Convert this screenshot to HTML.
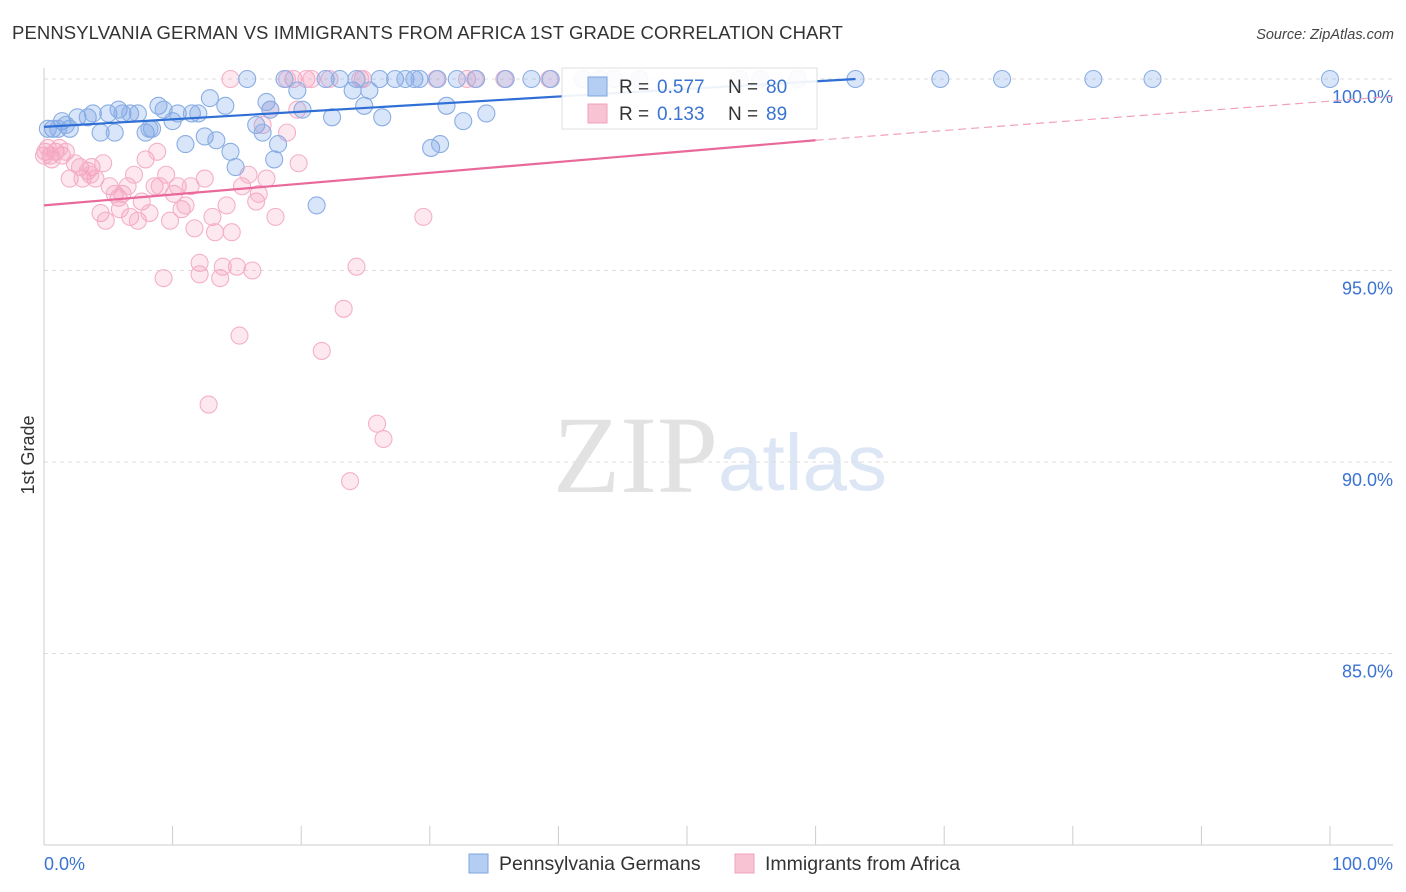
<!DOCTYPE html>
<html><head><meta charset="utf-8">
<style>
body{margin:0;background:#fff;font-family:"Liberation Sans",sans-serif;}
svg{display:block}
</style></head>
<body>
<svg id="chart" width="1406" height="892" viewBox="0 0 1406 892" xmlns="http://www.w3.org/2000/svg">
<text x="12" y="39" font-size="18.5" letter-spacing="0.1" fill="#333" font-family="Liberation Sans, sans-serif">PENNSYLVANIA GERMAN VS IMMIGRANTS FROM AFRICA 1ST GRADE CORRELATION CHART</text>
<text x="1394" y="39" font-size="14.5" fill="#444" font-style="italic" text-anchor="end">Source: ZipAtlas.com</text>
<g>
<text x="553" y="492" font-size="110" fill="#e2e2e2" font-family="Liberation Serif, serif">ZIP</text>
<text x="718" y="490" font-size="80" fill="#dce6f5" font-family="Liberation Sans, sans-serif">atlas</text>
</g>
<g id="grid"></g>
<g id="axes"></g>
<g id="pts"></g>
<g id="trends"></g>
<text transform="translate(34,455) rotate(-90)" font-size="18" fill="#333" text-anchor="middle">1st Grade</text>
<g>
<rect x="562" y="68" width="255" height="61" fill="#fff" stroke="#ddd" opacity="0.92"/>
<rect x="588" y="77" width="19" height="19" fill="#b4cdf2" stroke="#7ea6e0"/>
<rect x="588" y="104" width="19" height="19" fill="#f8c4d4" stroke="#f0a0bc"/>
<text x="619" y="93" font-size="19" fill="#333">R = </text><text x="657" y="93" font-size="19" fill="#3b73d1">0.577</text>
<text x="728" y="93" font-size="19" fill="#333">N = </text><text x="766" y="93" font-size="19" fill="#3b73d1">80</text>
<text x="619" y="120" font-size="19" fill="#333">R = </text><text x="657" y="120" font-size="19" fill="#3b73d1">0.133</text>
<text x="728" y="120" font-size="19" fill="#333">N = </text><text x="766" y="120" font-size="19" fill="#3b73d1">89</text>
</g>
<g>
<rect x="469" y="854" width="19" height="19" fill="#b4cdf2" stroke="#7ea6e0"/>
<text x="499" y="870" font-size="19.5" fill="#333">Pennsylvania Germans</text>
<rect x="735" y="854" width="19" height="19" fill="#f8c4d4" stroke="#f0a0bc"/>
<text x="765" y="870" font-size="19.5" fill="#333">Immigrants from Africa</text>
</g>
</svg>
<script>
const yTicks=[100,95,90,85];
const yTickLabels=["100.0%","95.0%","90.0%","85.0%"];
const xTicks=[0,10,20,30,40,50,60,70,80,90,100];
const blueX=[0.7,1.4,2.0,2.6,3.4,3.8,4.4,5.0,5.5,5.8,6.1,6.7,7.3,7.9,8.4,8.9,9.3,10.0,10.4,11.0,11.5,12.0,12.5,12.9,13.4,14.1,14.5,14.9,15.8,16.5,17.0,17.3,17.6,17.9,18.2,18.7,19.7,20.1,21.2,21.9,22.4,23.0,24.0,24.3,24.9,25.3,26.1,26.3,27.3,28.1,28.8,29.2,30.1,30.6,30.8,31.3,32.1,32.6,33.6,34.4,35.9,37.9,39.4,41.9,43.2,44.3,46.3,54.1,55.7,58.6,63.1,69.7,74.5,81.6,86.2,100,0.3,1.1,1.7,8.2];
const blueY=[98.7,98.9,98.7,99.0,99.0,99.1,98.6,99.1,98.6,99.2,99.1,99.1,99.1,98.6,98.7,99.3,99.2,98.9,99.1,98.3,99.1,99.1,98.5,99.5,98.4,99.3,98.1,97.7,100,98.8,98.6,99.4,99.2,97.9,98.3,100,99.7,99.2,96.7,100,99.0,100,99.7,100,99.3,99.7,100,99.0,100,100,100,100,98.2,100,98.3,99.3,100,98.9,100,99.1,100,100,100,100,100,100,100,100,100,100,100,100,100,100,100,100,98.7,98.7,98.8,98.7];
const pinkX=[0.1,0.5,0.9,1.4,1.7,2.0,2.4,2.8,3.0,3.4,3.7,4.0,4.4,4.6,4.8,5.1,5.5,5.8,6.1,6.5,6.7,7.0,7.3,7.6,7.9,8.2,8.6,8.8,9.0,9.3,9.5,9.8,10.1,10.4,10.7,11.0,11.4,11.7,12.1,12.1,12.5,12.8,13.1,13.3,13.7,13.9,14.2,14.6,15.0,15.2,15.4,15.9,16.2,16.5,16.7,17.0,17.3,17.6,18.0,18.9,19.4,19.7,19.8,20.4,21.6,22.2,23.3,23.8,24.3,24.6,25.9,26.4,29.5,30.5,32.9,33.5,35.8,39.3,14.5,18.9,20.8,24.8,0,0.6,0.3,1.2,3.6,5.9];
const pinkY=[98.1,98.0,98.1,98.0,98.1,97.4,97.8,97.7,97.4,97.6,97.7,97.4,96.5,97.8,96.3,97.2,97.0,96.9,97.0,97.2,96.4,97.5,96.3,96.8,97.9,96.5,97.2,98.1,97.2,94.8,97.5,96.3,97.0,97.2,96.6,96.7,97.2,96.1,95.2,94.9,97.4,91.5,96.4,96.0,94.8,95.1,96.7,96.0,95.1,93.3,97.2,97.5,95.0,96.8,97.0,98.8,97.4,99.2,96.4,98.6,100,99.2,97.8,100,92.9,100,94.0,89.5,95.1,100,91.0,90.6,96.4,100,100,100,100,100,100,100,100,100,98.0,97.9,98.2,98.2,97.5,96.6];
const blueTrend=[[0,98.75],[63.1,100]];
const pinkTrend=[[0,96.7],[60,98.4]];
const pinkTrendExt=[[60,98.4],[105,99.55]];

const NS="http://www.w3.org/2000/svg";
const xs=v=>44+v*12.86;
const ys=v=>79+(100-v)*38.3;
function mk(tag,attrs,parent){const e=document.createElementNS(NS,tag);for(const k in attrs)e.setAttribute(k,attrs[k]);parent.appendChild(e);return e;}
const grid=document.getElementById('grid'),axes=document.getElementById('axes'),pts=document.getElementById('pts'),tr=document.getElementById('trends');
yTicks.forEach((t,i)=>{
 const l=mk('line',{x1:44,x2:1393,y1:ys(t),y2:ys(t),stroke:'#ddd','stroke-dasharray':'4,4'},grid);
 
 
 const tx=mk('text',{x:1393,y:ys(t)+24,'font-size':18,fill:'#3b73d1','text-anchor':'end'},axes);
 tx.textContent=yTickLabels[i];
 
 
});
let a=mk('line',{x1:44,x2:44,y1:68,y2:845,stroke:'#ccc'},axes);


a=mk('line',{x1:44,x2:1393,y1:845,y2:845,stroke:'#ccc'},axes);


xTicks.forEach(t=>{
 const l=mk('line',{x1:xs(t),x2:xs(t),y1:826,y2:845,stroke:'#ccc'},axes);
 
 
});
let t0=mk('text',{x:44,y:870,'font-size':18,fill:'#3b73d1'},axes);t0.textContent='0.0%';


let t1=mk('text',{x:1393,y:870,'font-size':18,fill:'#3b73d1','text-anchor':'end'},axes);t1.textContent='100.0%';


pinkX.forEach((x,i)=>{
 const c=mk('circle',{cx:xs(x),cy:ys(pinkY[i]),r:8.5,fill:'rgba(244,150,182,0.22)',stroke:'#f4b0c8','stroke-width':1.1},pts);
 
 
});
blueX.forEach((x,i)=>{
 const c=mk('circle',{cx:xs(x),cy:ys(blueY[i]),r:8.5,fill:'rgba(120,160,230,0.28)',stroke:'#8aaee4','stroke-width':1.1},pts);
 
 
});
let L=mk('line',{x1:xs(blueTrend[0][0]),y1:ys(blueTrend[0][1]),x2:xs(blueTrend[1][0]),y2:ys(blueTrend[1][1]),stroke:'#2f6fd6','stroke-width':2.2},tr);


L=mk('line',{x1:xs(pinkTrend[0][0]),y1:ys(pinkTrend[0][1]),x2:xs(pinkTrend[1][0]),y2:ys(pinkTrend[1][1]),stroke:'#e8699a','stroke-width':2.2},tr);


L=mk('line',{x1:xs(pinkTrendExt[0][0]),y1:ys(pinkTrendExt[0][1]),x2:1393,y2:ys(pinkTrendExt[0][1]+(pinkTrendExt[1][1]-pinkTrendExt[0][1])*((1393-44)/12.86-pinkTrendExt[0][0])/(pinkTrendExt[1][0]-pinkTrendExt[0][0])),stroke:'#f0a0bc','stroke-width':1.2,'stroke-dasharray':'8,5'},tr);


</script>
</body></html>
